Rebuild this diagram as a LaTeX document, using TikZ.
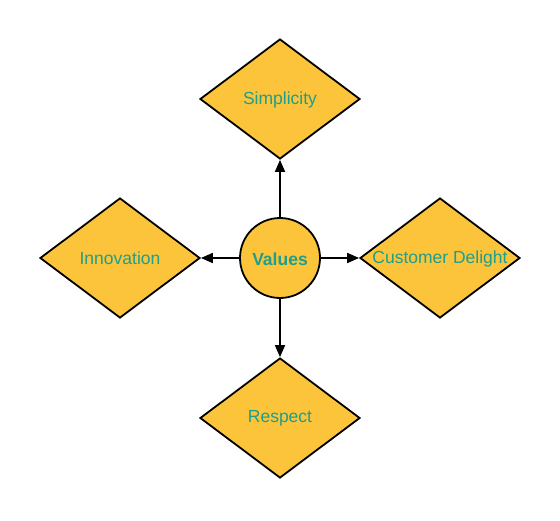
\documentclass[tikz,border=0pt]{standalone}
\usepackage{fontspec}
\setmainfont{Liberation Sans}
\usetikzlibrary{shapes.geometric,arrows.meta}
\definecolor{fillyellow}{HTML}{FBC43A}
\definecolor{textteal}{HTML}{1F9E8A}
\begin{document}
\begin{tikzpicture}[x=1pt,y=-1pt,
  valuebox/.style={diamond,draw=black,line width=1.8pt,fill=fillyellow,
    minimum width=160pt,minimum height=120pt,inner sep=0pt,aspect=1.3333,
    label={[lbl,yshift=-0.5pt]center:#1}},
  hub/.style={circle,draw=black,line width=1.8pt,fill=fillyellow,minimum size=80pt,
    inner sep=0pt,label={[lbl,font=\fontsize{17.5}{19}\selectfont\bfseries,yshift=-1pt]center:#1}},
  lbl/.style={text=textteal,font=\fontsize{17.5}{19}\selectfont},
  conn/.style={line width=1.8pt,-{Triangle[length=12pt,width=10pt]}}]
\useasboundingbox (0,0) rectangle (560,520);
\node[hub=Values] (v) at (280,258) {};
\node[valuebox=Simplicity] (s) at (280,99) {};
\node[valuebox=Innovation] (i) at (120,258) {};
\node[valuebox=Customer Delight] (c) at (440,258) {};
\node[valuebox=Respect] (r) at (280,418) {};
\draw[conn] (v) -- (s);
\draw[conn] (v) -- (i);
\draw[conn] (v) -- (c);
\draw[conn] (v) -- (r);
\end{tikzpicture}
\end{document}
